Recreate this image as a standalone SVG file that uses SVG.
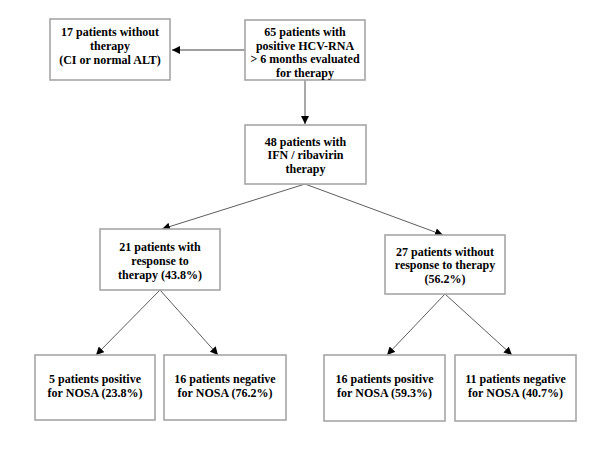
<svg xmlns="http://www.w3.org/2000/svg" width="600" height="450" viewBox="0 0 600 450">
<style>
.box{fill:#fff;stroke:#a6a6a6;stroke-width:1.6}
.t text{font-weight:bold;font-size:12px;fill:#000;text-anchor:middle}
.thick{stroke:#a0a0a0;stroke-width:1.8;fill:none}
.thin{stroke:#333;stroke-width:0.8;fill:none}
</style>
<defs>
<marker id="ah" viewBox="0 0 10 10" refX="10" refY="5" markerWidth="8" markerHeight="8" markerUnits="userSpaceOnUse" orient="auto">
<path d="M0,0 L10,5 L0,10 z" fill="#000"/>
</marker>
</defs>
<rect width="600" height="450" fill="#fff"/>
<g id="connectors">
<line class="thick" x1="245" y1="50" x2="172" y2="50" marker-end="url(#ah)"/>
<line class="thick" x1="305" y1="80" x2="305" y2="124" marker-end="url(#ah)"/>
<line class="thin" x1="305" y1="184" x2="162" y2="229" marker-end="url(#ah)"/>
<line class="thin" x1="305" y1="184" x2="443" y2="235" marker-end="url(#ah)"/>
<line class="thin" x1="160" y1="290" x2="96" y2="355" marker-end="url(#ah)"/>
<line class="thin" x1="160" y1="290" x2="218" y2="355" marker-end="url(#ah)"/>
<line class="thin" x1="445" y1="294" x2="387" y2="355" marker-end="url(#ah)"/>
<line class="thin" x1="445" y1="294" x2="512" y2="355" marker-end="url(#ah)"/>
</g>
<g class="t" font-family="'Liberation Serif', 'DejaVu Serif', serif">
<g id="n1">
<rect class="box" x="50" y="19" width="120" height="61"/>
<text x="110" y="35.5">17 patients without</text>
<text x="110" y="49.5">therapy</text>
<text x="110" y="63.5">(CI or normal ALT)</text>
</g>
<g id="n2">
<rect class="box" x="245" y="20" width="120" height="60"/>
<text x="305" y="35.5">65 patients with</text>
<text x="305" y="49.5">positive HCV-RNA</text>
<text x="305" y="63">&gt; 6 months evaluated</text>
<text x="305" y="76.5">for therapy</text>
</g>
<g id="n3">
<rect class="box" x="245" y="125" width="121" height="59"/>
<text x="305.5" y="145.5">48 patients with</text>
<text x="305.5" y="158.5">IFN / ribavirin</text>
<text x="305.5" y="172.5">therapy</text>
</g>
<g id="n4">
<rect class="box" x="100" y="229" width="120" height="61"/>
<text x="160" y="250.5">21 patients with</text>
<text x="160" y="264.5">response to</text>
<text x="160" y="278.5">therapy (43.8%)</text>
</g>
<g id="n5">
<rect class="box" x="385" y="235" width="120" height="59"/>
<text x="445" y="255.5">27 patients without</text>
<text x="445" y="268.5">response to therapy</text>
<text x="445" y="282.5">(56.2%)</text>
</g>
<g id="n6">
<rect class="box" x="35" y="355" width="120" height="65"/>
<text x="95" y="382.5">5 patients positive</text>
<text x="95" y="397">for NOSA (23.8%)</text>
</g>
<g id="n7">
<rect class="box" x="164" y="355" width="122" height="65"/>
<text x="225" y="382.5">16 patients negative</text>
<text x="225" y="397">for NOSA (76.2%)</text>
</g>
<g id="n8">
<rect class="box" x="324" y="355" width="121" height="66"/>
<text x="384.5" y="382.5">16 patients positive</text>
<text x="384.5" y="396.5">for NOSA (59.3%)</text>
</g>
<g id="n9">
<rect class="box" x="455" y="355" width="121" height="66"/>
<text x="515.5" y="382.5">11 patients negative</text>
<text x="515.5" y="396.5">for NOSA (40.7%)</text>
</g>
</g>
</svg>
